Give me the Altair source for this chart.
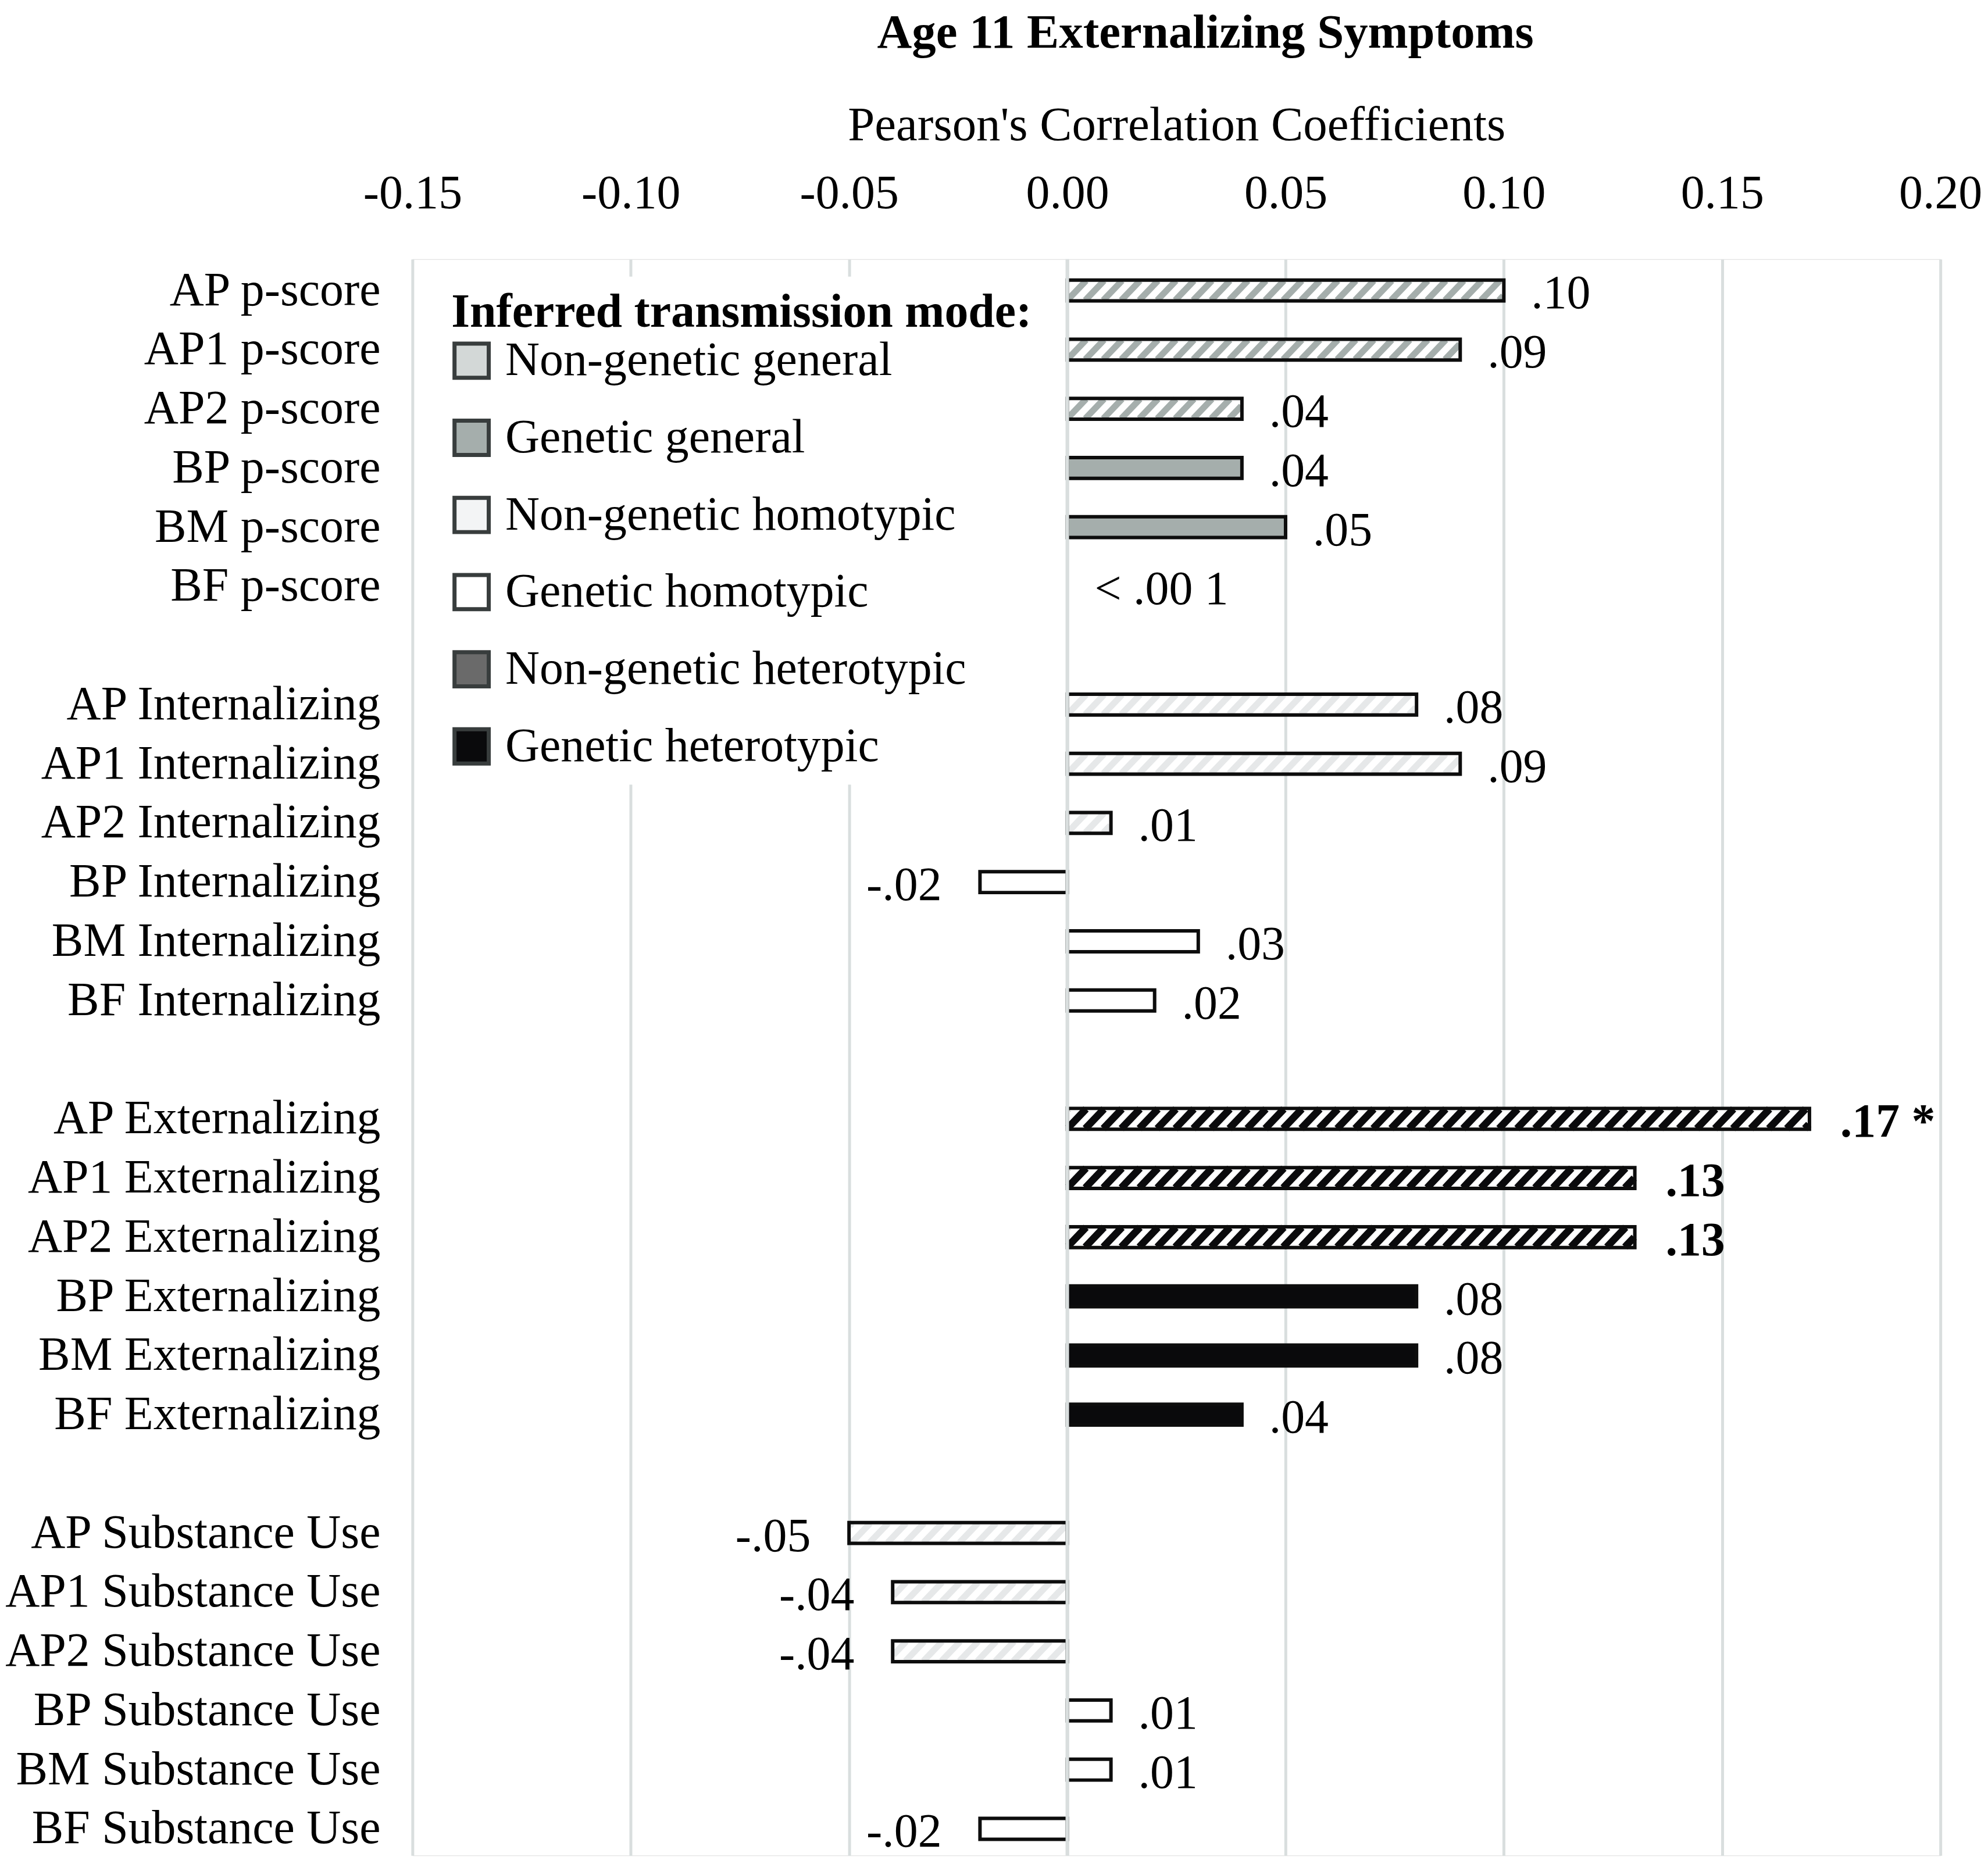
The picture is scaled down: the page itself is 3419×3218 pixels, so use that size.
import altair as alt
import pandas as pd

# ---------------- data ----------------
labels = [
    "AP p-score", "AP1 p-score", "AP2 p-score", "BP p-score", "BM p-score", "BF p-score",
    "AP Internalizing", "AP1 Internalizing", "AP2 Internalizing", "BP Internalizing", "BM Internalizing", "BF Internalizing",
    "AP Externalizing", "AP1 Externalizing", "AP2 Externalizing", "BP Externalizing", "BM Externalizing", "BF Externalizing",
    "AP Substance Use", "AP1 Substance Use", "AP2 Substance Use", "BP Substance Use", "BM Substance Use", "BF Substance Use",
]
values = [
    0.10, 0.09, 0.04, 0.04, 0.05, 0.0,
    0.08, 0.09, 0.01, -0.02, 0.03, 0.02,
    0.17, 0.13, 0.13, 0.08, 0.08, 0.04,
    -0.05, -0.04, -0.04, 0.01, 0.01, -0.02,
]
value_text = [
    ".10", ".09", ".04", ".04", ".05", "< .00 1",
    ".08", ".09", ".01", "-.02", ".03", ".02",
    ".17 *", ".13", ".13", ".08", ".08", ".04",
    "-.05", "-.04", "-.04", ".01", ".01", "-.02",
]
significant = [False] * 12 + [True, True, True] + [False] * 9

mode_names = [
    "Non-genetic general", "Genetic general",
    "Non-genetic homotypic", "Genetic homotypic",
    "Non-genetic heterotypic", "Genetic heterotypic",
]
modes = (
    ["Non-genetic general"] * 3 + ["Genetic general"] * 3
    + ["Non-genetic homotypic"] * 3 + ["Genetic homotypic"] * 3
    + ["Non-genetic heterotypic"] * 3 + ["Genetic heterotypic"] * 3
    + ["Non-genetic homotypic"] * 3 + ["Genetic homotypic"] * 3
)
x_ticks = [-0.15, -0.10, -0.05, 0.00, 0.05, 0.10, 0.15, 0.20]

# ---------------- styles ----------------
FONT = "Liberation Serif"
FS = 82
FS_BIG = 83
legend_fill = ["#d3d8d7", "#a5aeac", "#f3f4f5", "#ffffff", "#6a6a6a", "#0a0a0c"]
stripe_colors = {
    "Non-genetic general": "#a5aeac",
    "Non-genetic homotypic": "#e6e8e9",
    "Non-genetic heterotypic": "#0a0a0c",
}
stripe_widths = {
    "Non-genetic general": 11,
    "Non-genetic homotypic": 11,
    "Non-genetic heterotypic": 12.5,
}
GRID = "#d9dede"
HALF = 0.176          # half bar thickness (rows)
S_HALF = 0.166        # half height of hatch segments (rows)
SLANT = 0.0043        # hatch slant across the bar (x units)
PERIOD = 0.00412      # hatch period (x units)
INSET = 0.00015       # hatch inset at bar ends (x units)

# ---------------- tables ----------------
rows = []
for i, (lab, v, t, s, m) in enumerate(zip(labels, values, value_text, significant, modes)):
    idx = i + i // 6  # blank slot between groups
    rows.append(dict(label=lab, value=v, zero=0.0, text=t, bold=s, mode=m, idx=idx,
                     y_lo=idx - HALF, y_hi=idx + HALF, hatched=m in stripe_colors))
df = pd.DataFrame(rows)

# diagonal hatch segments derived from each hatched bar's extent
segs = []
for r in rows:
    if not r["hatched"] or r["value"] == 0:
        continue
    lo, hi = min(0.0, r["value"]) + INSET, max(0.0, r["value"]) - INSET
    k = int((lo - SLANT) // PERIOD)
    x0 = k * PERIOD
    while x0 < hi:
        t_lo = max(0.0, (lo - x0) / SLANT)
        t_hi = min(1.0, (hi - x0) / SLANT)
        if t_hi > t_lo:
            segs.append(dict(
                x=x0 + SLANT * t_lo, x2=x0 + SLANT * t_hi,
                y=r["idx"] + S_HALF - 2 * S_HALF * t_lo, y2=r["idx"] + S_HALF - 2 * S_HALF * t_hi,
                col=stripe_colors[r["mode"]], w=stripe_widths[r["mode"]]))
        x0 += PERIOD
sdf = pd.DataFrame(segs)

XTITLE = "Pearson's Correlation Coefficients"
xscale = alt.Scale(domain=[-0.15, 0.20], nice=False, zero=False)
yscale = alt.Scale(domain=[-0.529, 26.45], reverse=True, nice=False, zero=False)

xaxis = alt.Axis(
    orient="top", values=x_ticks,
    labelExpr="replace(format(datum.value, '.2f'), '\u2212', '-')",
    domain=False, ticks=False, grid=True, gridColor=GRID, gridWidth=5,
    labelFont=FONT, labelFontSize=FS, labelColor="black", labelPadding=71,
    labelFlush=False, labelOverlap=False,
    title=XTITLE, titleFont=FONT, titleFontSize=FS_BIG, titleFontWeight="normal",
    titleColor="black", titlePadding=35,
)

base = alt.Chart(df)

bars = base.mark_rect().encode(
    x=alt.X("value:Q", scale=xscale, axis=xaxis, title=XTITLE),
    x2="zero:Q",
    y=alt.Y("y_lo:Q", scale=yscale, axis=None),
    y2="y_hi:Q",
    fill=alt.Fill(
        "mode:N",
        scale=alt.Scale(domain=mode_names, range=legend_fill),
        legend=alt.Legend(
            orient="none", legendX=45, legendY=30, padding=22, fillColor="white",
            title="Inferred transmission mode:", titleFont=FONT, titleFontSize=FS,
            titleFontWeight="bold", titleColor="black", titlePadding=0, titleLimit=3000,
            labelFont=FONT, labelFontSize=FS, labelColor="black", labelLimit=3000,
            labelOffset=17, symbolOffset=-6, symbolType="square", symbolSize=3481,
            symbolStrokeColor="#383d3d", symbolStrokeWidth=7, rowPadding=45,
        ),
    ),
)

white = base.transform_filter("datum.hatched").mark_rect(fill="white").encode(
    x=alt.X("value:Q", scale=xscale, title=XTITLE), x2="zero:Q",
    y=alt.Y("y_lo:Q", scale=yscale, axis=None), y2="y_hi:Q",
)

stripes = alt.Chart(sdf).mark_rule(strokeCap="butt").encode(
    x=alt.X("x:Q", scale=xscale, title=XTITLE), x2="x2:Q",
    y=alt.Y("y:Q", scale=yscale, axis=None), y2="y2:Q",
    stroke=alt.Stroke("col:N", scale=None),
    strokeWidth=alt.StrokeWidth("w:Q", scale=None),
)

outline = base.transform_filter("datum.value != 0").mark_rect(
    fill="transparent", stroke="#0d0d0d", strokeWidth=6
).encode(
    x=alt.X("value:Q", scale=xscale, title=XTITLE), x2="zero:Q",
    y=alt.Y("y_lo:Q", scale=yscale, axis=None), y2="y_hi:Q",
)

zero_rule = alt.Chart(pd.DataFrame({"z": [0.0]})).mark_rule(color=GRID, strokeWidth=6).encode(
    x=alt.X("z:Q", scale=xscale, title=XTITLE)
)

def value_labels(filt, align, dx, weight):
    return base.transform_filter(filt).mark_text(
        align=align, baseline="middle", dx=dx, dy=6, font=FONT, fontSize=FS,
        fontWeight=weight, color="black",
    ).encode(
        x=alt.X("value:Q", scale=xscale, title=XTITLE),
        y=alt.Y("idx:Q", scale=yscale, axis=None),
        text="text:N",
    )

pos_labels = value_labels("datum.value >= 0 && !datum.bold", "left", 47, "normal")
neg_labels = value_labels("datum.value < 0 && !datum.bold", "right", -66, "normal")
bold_labels = value_labels("datum.bold", "left", 53, "bold")

row_labels = base.mark_text(
    align="right", baseline="middle", font=FONT, fontSize=FS, color="black"
).encode(
    x=alt.value(-55),
    y=alt.Y("idx:Q", scale=yscale, axis=None),
    text="label:N",
)

chart = alt.layer(
    bars, white, stripes, outline, zero_rule, pos_labels, neg_labels, bold_labels, row_labels
).properties(
    width=2634, height=2752,
    title=alt.TitleParams(
        "Age 11 Externalizing Symptoms", font=FONT, fontSize=FS_BIG, fontWeight="bold",
        color="black", anchor="middle", dx=50, offset=76,
    ),
    padding={"left": 703, "top": 435, "right": 74, "bottom": 8},
    autosize=alt.AutoSizeParams(type="none"),
).configure_view(stroke=None).configure(background="white")

chart.save("out.html", embed_options={"renderer": "svg", "actions": False})
